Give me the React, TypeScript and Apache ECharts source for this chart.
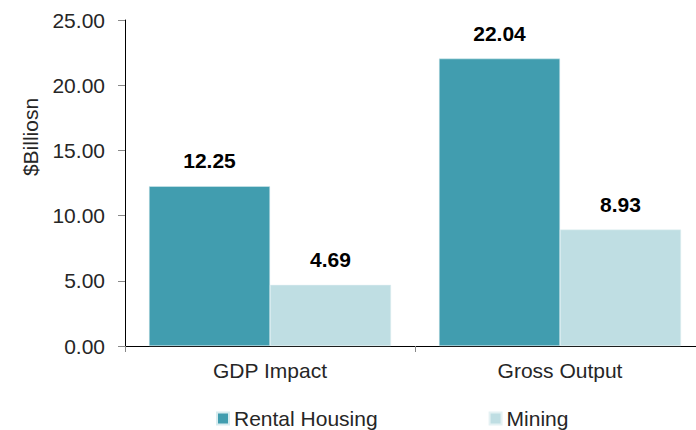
import React, { useEffect, useRef } from "react";
import * as echarts from "echarts";

const categories = ["GDP Impact", "Gross Output"];
const rentalHousing = [12.25, 22.04];
const mining = [4.69, 8.93];
const seriesNames = ["Rental Housing", "Mining"];
const yAxisTitle = "$Billiosn";

const FONT = "'Liberation Sans', Arial, sans-serif";
const FS = 21;
const TEXT = "#262626";

export default function App() {
  const ref = useRef<HTMLDivElement>(null);
  useEffect(() => {
    if (!ref.current) return;
    const chart = echarts.init(ref.current, undefined, { renderer: "svg" });
    const label = {
      show: true,
      position: "top",
      distance: 15,
      fontFamily: FONT,
      fontSize: FS,
      fontWeight: "bold",
      color: "#000",
      formatter: (p: any) => Number(p.value).toFixed(2),
    };
    chart.setOption({
      animation: false,
      textStyle: { fontFamily: FONT },
      grid: {
        left: 125,
        top: 20,
        width: 580,
        height: 326,
        containLabel: false,
        outerBoundsMode: "none",
      },
      legend: {
        left: 216,
        top: 408,
        padding: 0,
        icon: "rect",
        itemWidth: 12,
        itemHeight: 12,
        itemGap: 111,
        textStyle: { fontFamily: FONT, fontSize: FS, color: TEXT },
        data: seriesNames,
      },
      graphic: [
        {
          type: "text",
          x: 30,
          y: 137,
          rotation: Math.PI / 2,
          style: {
            text: yAxisTitle,
            fontFamily: FONT,
            fontSize: FS,
            fill: TEXT,
            align: "center",
            verticalAlign: "middle",
          },
        },
      ],
      xAxis: {
        type: "category",
        data: categories,
        axisLine: { lineStyle: { color: "#000", width: 1 } },
        axisTick: { show: true, length: 6, lineStyle: { color: "#888" } },
        axisLabel: { fontFamily: FONT, fontSize: FS, color: TEXT, margin: 14 },
      },
      yAxis: {
        type: "value",
        min: 0,
        max: 25,
        interval: 5,
        axisLine: { show: true, lineStyle: { color: "#000", width: 1 } },
        axisTick: { show: true, length: 7, lineStyle: { color: "#888" } },
        splitLine: { show: false },
        axisLabel: {
          fontFamily: FONT,
          fontSize: FS,
          color: TEXT,
          margin: 20,
          formatter: (v: number) => v.toFixed(2),
        },
      },
      series: [
        {
          name: seriesNames[0],
          type: "bar",
          data: rentalHousing,
          barWidth: 121,
          barGap: "0%",
          itemStyle: { color: "#419DAF", borderColor: "#d8ecef", borderWidth: 0.5 },
          label,
        },
        {
          name: seriesNames[1],
          type: "bar",
          data: mining,
          barWidth: 121,
          barGap: "0%",
          itemStyle: { color: "#BFDEE3", borderColor: "#e4f1f3", borderWidth: 0.5 },
          label,
        },
      ],
    });
    return () => chart.dispose();
  }, []);
  return <div ref={ref} style={{ width: 696, height: 430, position: "absolute", left: 0, top: 0 }} />;
}
